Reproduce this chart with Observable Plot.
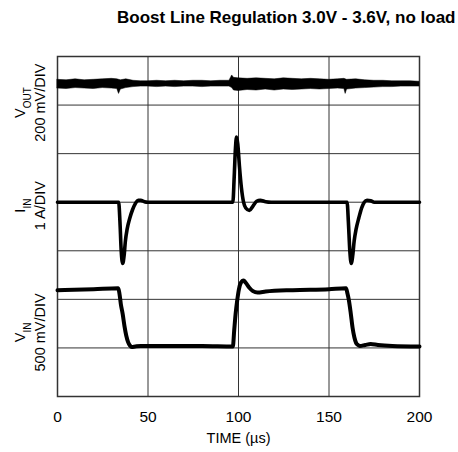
<!DOCTYPE html>
<html><head><meta charset="utf-8">
<script src="https://cdn.jsdelivr.net/npm/d3@7"></script>
<script src="https://cdn.jsdelivr.net/npm/@observablehq/plot@0.6"></script>
<style>
body{margin:0;background:#fff;font-family:"Liberation Sans",Arial,sans-serif;}
#title{height:30px;box-sizing:border-box;padding-top:8px;padding-left:117px;text-align:left;font-weight:bold;font-size:17px;line-height:20px;color:#000;white-space:nowrap;}
</style></head><body>
<div id="title">Boost Line Regulation 3.0V - 3.6V, no load</div>
<div id="chart"></div>
<script>
// Time axis (µs) tick labels
const xTicks = [0, 50, 100, 150, 200];
// Vertical divisions (0 = bottom, 7 = top)
const yDivs = [0, 1, 2, 3, 4, 5, 6, 7];

// Y-axis channel labels: name, subscript, scale, centre division
const chanNames = ["V", "I", "V"];
const chanSubs = ["OUT", "IN", "IN"];
const chanScales = ["200 mV/DIV", "1 A/DIV", "500 mV/DIV"];
const chanCentres = [6.05, 3.93, 1.32];

// VOUT noisy band: time, lower edge, upper edge (divisions)
const voutT  = [0,5,10,15,20,25,30,33,34,35,38,42,46,50,55,60,65,70,75,80,85,90,95,96.5,97.5,100,105,110,115,120,125,130,135,140,145,150,155,158.5,159.2,160,165,170,175,180,185,190,195,200];
const voutLo = [6.34,6.33,6.35,6.34,6.33,6.35,6.34,6.33,6.23,6.32,6.35,6.37,6.38,6.38,6.37,6.38,6.37,6.38,6.38,6.37,6.38,6.38,6.38,6.35,6.30,6.29,6.31,6.30,6.32,6.30,6.32,6.31,6.32,6.33,6.32,6.33,6.34,6.33,6.23,6.32,6.34,6.35,6.36,6.37,6.37,6.38,6.38,6.38];
const voutHi = [6.52,6.51,6.53,6.51,6.52,6.53,6.54,6.53,6.52,6.51,6.53,6.50,6.49,6.49,6.50,6.49,6.50,6.49,6.50,6.50,6.49,6.50,6.50,6.61,6.56,6.55,6.54,6.55,6.54,6.53,6.55,6.54,6.53,6.54,6.53,6.52,6.53,6.54,6.53,6.52,6.53,6.51,6.50,6.50,6.49,6.49,6.49,6.48];

// IIN trace (divisions)
const iinT = [0,33.8,34.5,35.2,36,36.8,37.5,38.5,40,41.5,43,44.5,46,48,50,96.9,97.6,98.3,98.9,99.6,100.5,101.6,102.8,104,106,108,110,112,115,118,160.0,160.7,161.5,162.3,163.1,163.9,165,166.5,168,169.5,171,173,175,200];
const iinV = [4.0,4.0,3.6,3.0,2.74,2.9,3.2,3.45,3.68,3.85,3.97,4.04,4.04,4.01,4.0,4.0,4.5,5.1,5.34,5.2,4.75,4.3,4.0,3.88,3.83,3.92,4.02,4.04,4.01,4.0,4.0,3.6,3.0,2.74,2.9,3.2,3.45,3.68,3.88,4.0,4.04,4.03,4.0,4.0];

// VIN trace (divisions)
const vinT = [0,20,33.6,34.3,35,36,37,38,39,40,41,43,46,60,80,96.9,97.6,98.4,99.3,100.2,101.3,102.8,104,106,108,110.5,115,130,150,159.4,160.2,161,162,163,164,165,166,167,170,173,177,185,200];
const vinV = [2.19,2.21,2.23,2.1,1.9,1.7,1.45,1.25,1.12,1.05,1.02,1.03,1.04,1.04,1.04,1.03,1.35,1.7,1.98,2.2,2.34,2.39,2.34,2.24,2.17,2.14,2.16,2.19,2.21,2.23,2.12,1.98,1.72,1.42,1.22,1.1,1.06,1.04,1.06,1.08,1.06,1.04,1.03];

const vout = voutT.map((t, i) => ({t, lo: voutLo[i], hi: voutHi[i]}));
const iin = iinT.map((t, i) => ({t, v: iinV[i]}));
const vin = vinT.map((t, i) => ({t, v: vinV[i]}));
const chans = chanNames.map((n, i) => ({label: n + "|" + chanSubs[i] + "\n" + chanScales[i], y: chanCentres[i]}));

const plot = Plot.plot({
  width: 458, height: 422,
  marginTop: 26, marginBottom: 56, marginLeft: 57, marginRight: 39,
  x: {domain: [0, 200]},
  y: {domain: [0, 7], axis: null},
  style: {fontFamily: "'Liberation Sans', Arial, sans-serif", fontSize: "15px", color: "#000", background: "#fff", overflow: "visible"},
  marks: [
    Plot.ruleX(xTicks, {stroke: "#333", strokeWidth: 1, strokeOpacity: 1}),
    Plot.ruleY(yDivs, {stroke: "#333", strokeWidth: 1, strokeOpacity: 1}),
    Plot.frame({stroke: "#333", strokeWidth: 1.5}),
    Plot.axisX({ticks: xTicks, tickSize: 0, tickPadding: 14, label: null, fontSize: 15.5}),
    Plot.text(["TIME (µs)"], {frameAnchor: "bottom", dy: 46, fontSize: 14.5}),
    Plot.text(chans, {frameAnchor: "left", y: "y", text: "label", rotate: -90, dx: -29, fontSize: 14.5, lineHeight: 1.4, textAnchor: "middle", lineAnchor: "middle"}),
    Plot.areaY(vout, {x: "t", y1: "lo", y2: "hi", fill: "#000", stroke: "#000", strokeWidth: 0.5}),
    Plot.line(iin, {x: "t", y: "v", stroke: "#000", strokeWidth: 3.6, curve: "monotone-x"}),
    Plot.line(vin, {x: "t", y: "v", stroke: "#000", strokeWidth: 4, curve: "monotone-x"})
  ]
});

d3.select(plot).selectAll("tspan").each(function() {
  const t = this.textContent;
  if (t.includes("|")) {
    const [a, b] = t.split("|");
    const sel = d3.select(this);
    sel.text("");
    sel.append("tspan").text(a);
    sel.append("tspan").attr("baseline-shift", "sub").attr("font-size", "10px").text(b);
  }
});
document.getElementById("chart").appendChild(plot);
</script></body></html>
